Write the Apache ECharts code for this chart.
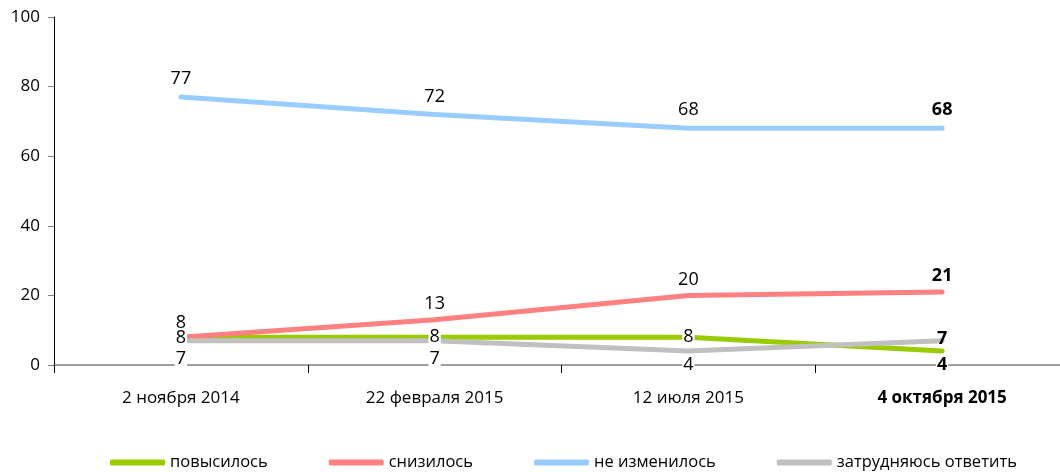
<!DOCTYPE html>
<html><head><meta charset="utf-8">
<script src="https://cdn.jsdelivr.net/npm/echarts@6/dist/echarts.min.js"></script>
<style>html,body{margin:0;padding:0;background:#fff;overflow:hidden}#c{width:1069px;height:472px}</style>
</head><body><div id="c"></div>
<script>
const categories = ['2 ноября 2014', '22 февраля 2015', '12 июля 2015', '4 октября 2015'];
const seriesNames = ['повысилось', 'снизилось', 'не изменилось', 'затрудняюсь ответить'];
const rose = [8, 8, 8, 4];
const fell = [8, 13, 20, 21];
const same = [77, 72, 68, 68];
const unsure = [7, 7, 4, 7];
const yTicks = [0, 20, 40, 60, 80, 100];

const FONT = '"Open Sans", "Noto Sans", sans-serif';
const colors = ['#99cc00', '#ff8080', '#99ccff', '#c0c0c0'];
// label placement per series and point: [position, offsetY, whiteBackground, distance]
const labelPlace = [
  [['inside', 1, true, 0], ['inside', 0, true, 0], ['inside', 0, true, 0], ['inside', 14, true, 0]],
  [['top', 2, false, 7], ['top', 0, false, 7], ['top', 0, false, 7], ['top', 0, false, 7]],
  [['top', 0, false, 9], ['top', 0, false, 9], ['top', 0, false, 9], ['top', 0, false, 9]],
  [['inside', 18, true, 0], ['inside', 18, true, 0], ['inside', 14, true, 0], ['inside', -2, false, 0]]
];
const allValues = [rose, fell, same, unsure];

const series = allValues.map((vals, si) => ({
  name: seriesNames[si],
  type: 'line',
  symbol: 'circle',
  symbolSize: 0.01,
  showSymbol: true,
  lineStyle: { width: 5, color: colors[si], cap: 'round', join: 'round' },
  itemStyle: { color: colors[si] },
  data: vals.map((v, i) => {
    const p = labelPlace[si][i];
    const last = i === vals.length - 1;
    return {
      value: v,
      label: {
        show: true,
        position: p[0],
        offset: [0, p[1]],
        distance: p[3],
        color: '#000',
        fontFamily: FONT,
        fontSize: 18,
        fontWeight: last ? 'bold' : 'normal',
        backgroundColor: p[2] ? '#fff' : 'transparent',
        padding: p[2] ? [0, 1, 0, 1] : 0,
        lineHeight: 18
      }
    };
  })
}));

const chart = echarts.init(document.getElementById('c'));
chart.setOption({
  animation: false,
  grid: { left: 54, top: 17, right: 0, height: 348 },
  xAxis: {
    type: 'category',
    data: categories,
    boundaryGap: true,
    axisLine: { lineStyle: { color: '#808080', width: 1.5 } },
    axisTick: { show: true, length: 8, interval: 0, lineStyle: { color: '#000', width: 1 } },
    axisLabel: {
      margin: 25,
      interval: 0,
      fontFamily: FONT,
      fontSize: 17,
      color: '#000',
      formatter: (v, i) => i === categories.length - 1 ? '{b|' + v + '}' : v,
      rich: { b: { fontWeight: 'bold', fontFamily: FONT, fontSize: 17, color: '#000' } }
    }
  },
  yAxis: {
    type: 'value',
    min: 0, max: 100, interval: 20,
    splitLine: { show: false },
    axisLine: { show: true, lineStyle: { color: '#000', width: 1 } },
    axisTick: { show: true, length: 6, lineStyle: { color: '#808080', width: 1 } },
    axisLabel: {
      margin: 14,
      fontFamily: FONT, fontSize: 17, color: '#000',
      customValues: yTicks
    }
  },
  legend: {
    left: 105, top: 449,
    itemWidth: 55, itemHeight: 6,
    itemGap: 61,
    icon: 'roundRect',
    textStyle: { fontFamily: FONT, fontSize: 16.5, color: '#000' },
    data: seriesNames
  },
  series: series
});
</script></body></html>
